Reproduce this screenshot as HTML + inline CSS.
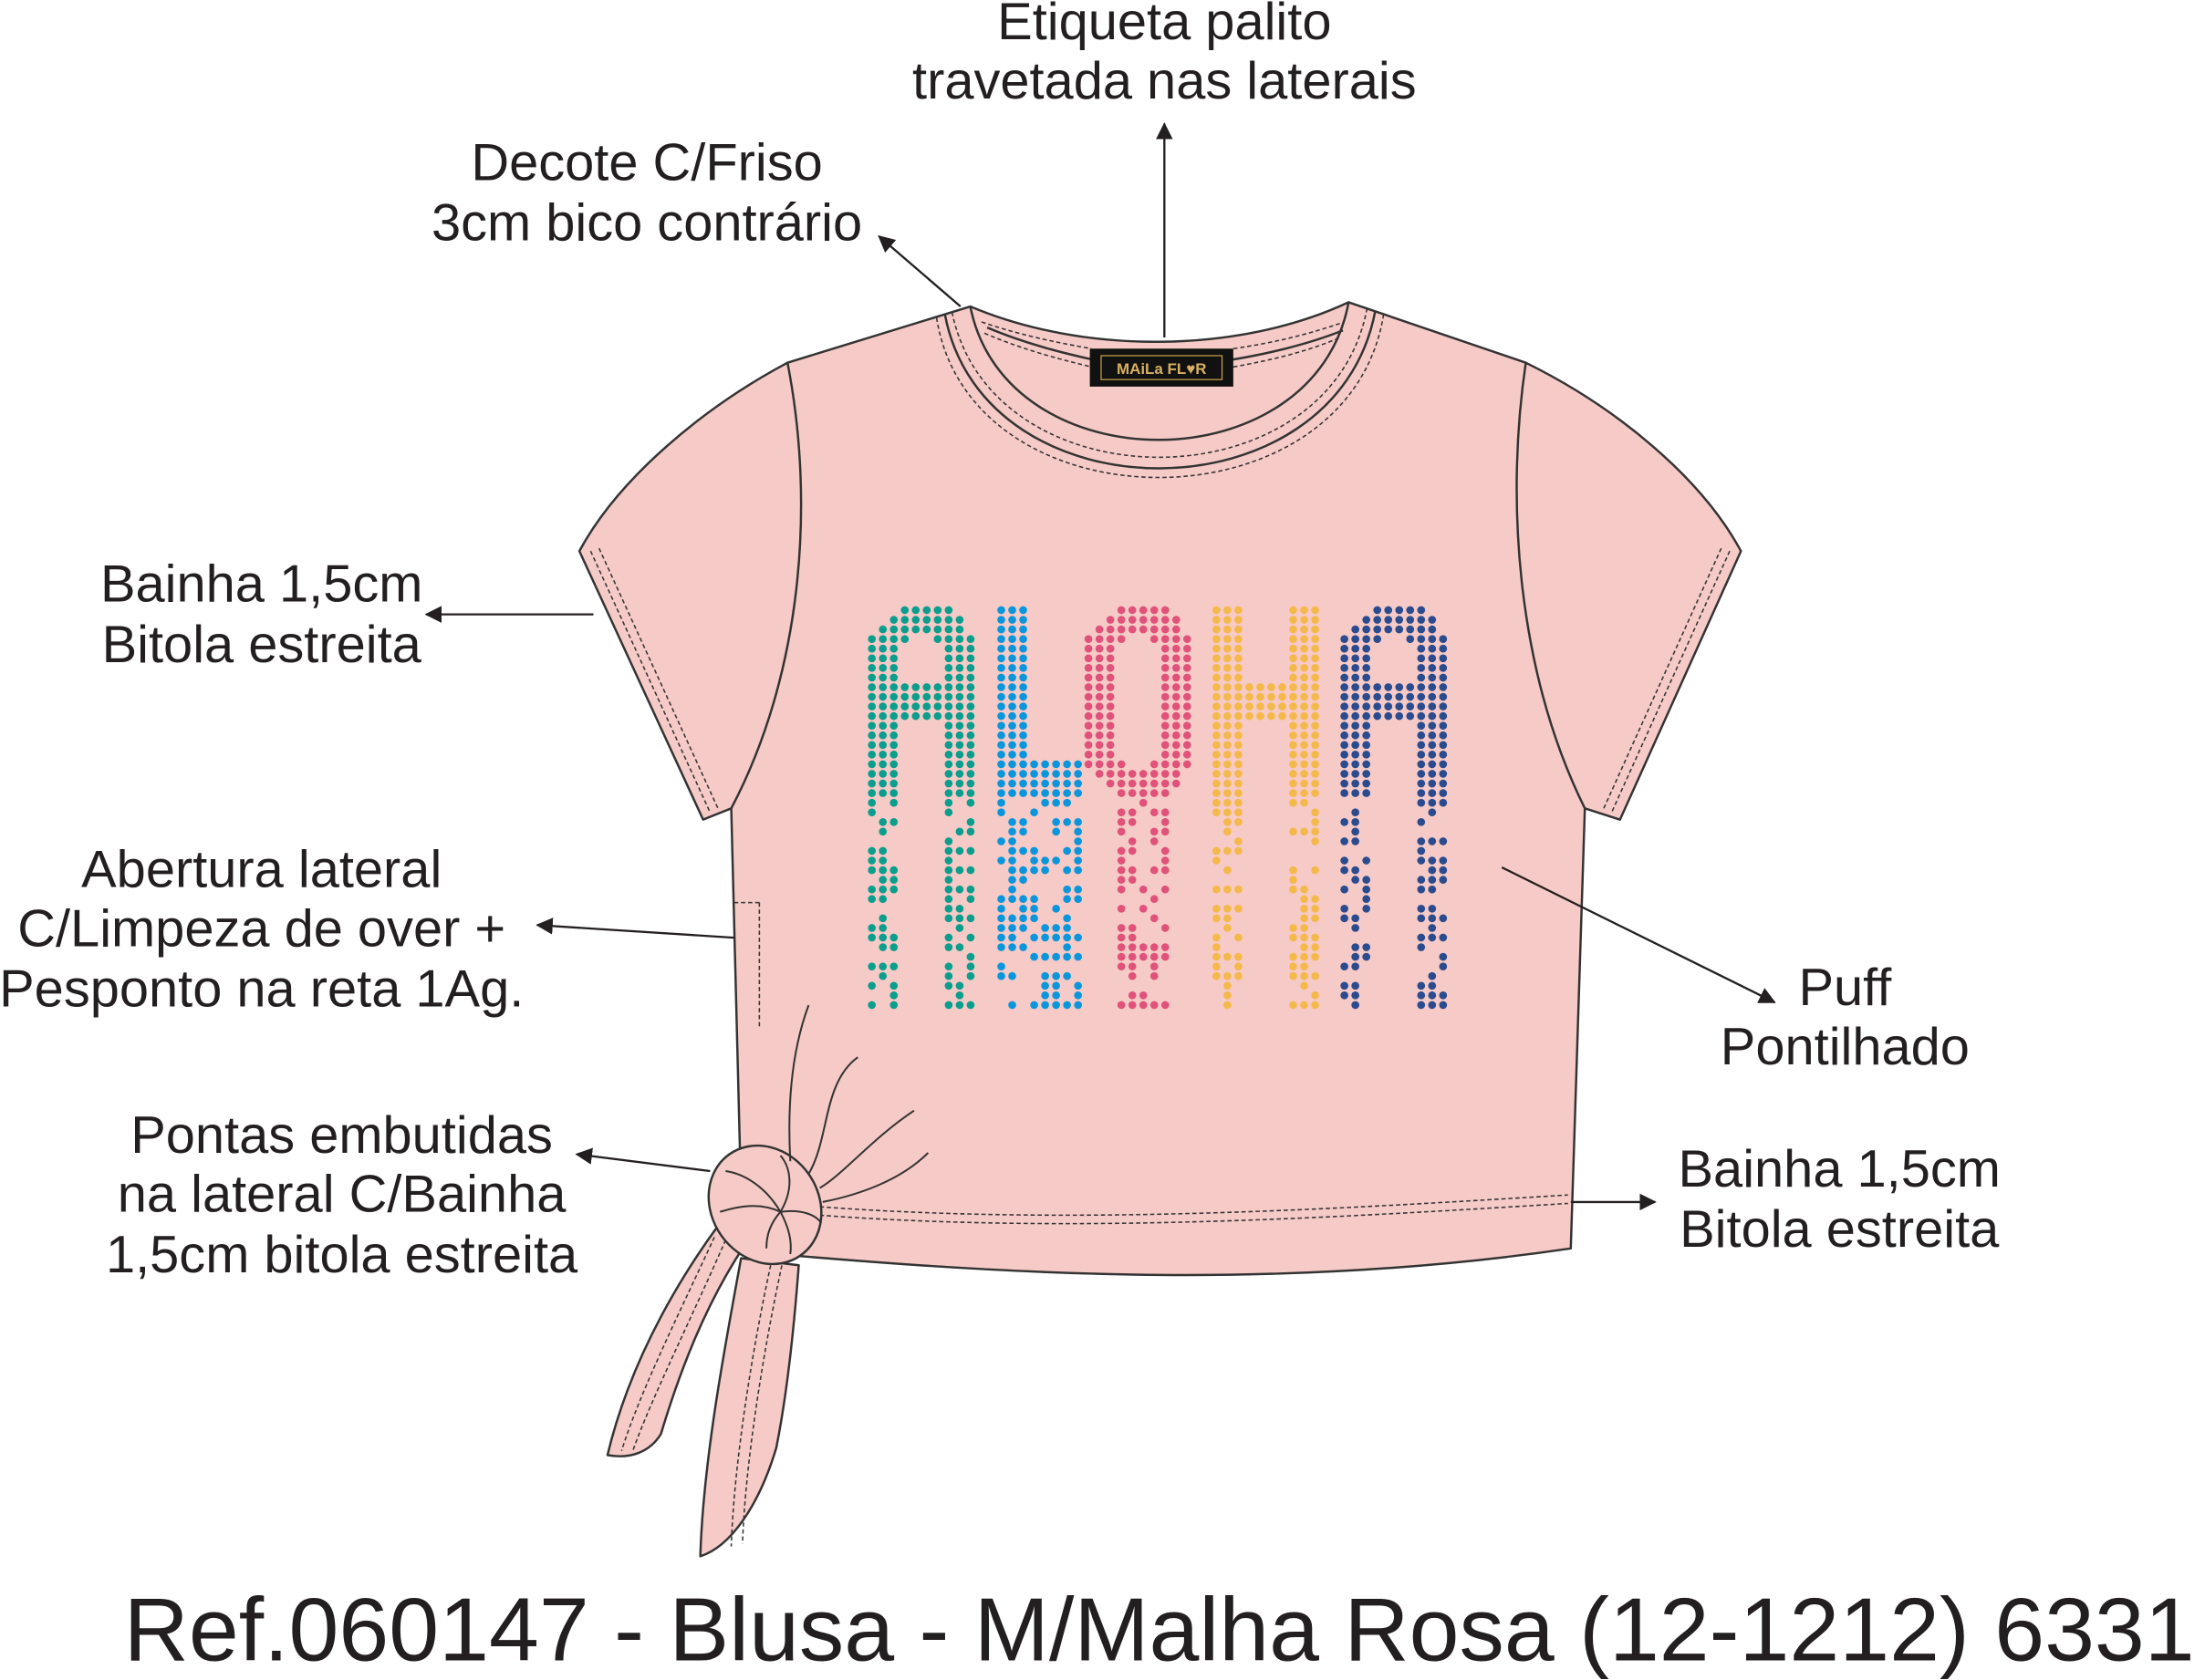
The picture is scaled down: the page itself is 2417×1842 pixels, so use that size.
<!DOCTYPE html>
<html><head><meta charset="utf-8"><style>
html,body{margin:0;padding:0;background:#fff;width:2417px;height:1842px;overflow:hidden}
svg{display:block}
text{font-family:"Liberation Sans",Arial,sans-serif;fill:#231f20}
</style></head><body>
<svg id="s" width="2417" height="1842" viewBox="0 0 1568 1195" preserveAspectRatio="none" xmlns="http://www.w3.org/2000/svg">
<defs>
<marker id="ar" markerWidth="12" markerHeight="12" refX="11" refY="6" orient="auto" markerUnits="userSpaceOnUse" viewBox="0 0 12 12">
<path d="M0,0 L12,6 L0,12 z" fill="#231f20"/></marker>
</defs>
<g stroke="#333" stroke-width="1.6" fill="#f6cac6" stroke-linejoin="round">
<path d="M512,870 C490,900 450,960 432,1035 C448,1038 462,1033 470,1020 C482,980 500,930 530,885 Z"/>
<path d="M527,895 C515,960 500,1040 498,1107 C520,1100 540,1070 552,1030 C560,990 565,940 568,900 Z"/>
<path d="M690,218 C770,252 880,252 959,215 L1085,258 C1150,290 1210,340 1238,392 L1152,583 L1127,575 L1117,888 C900,920 700,905 528,890 L520,575 L500,583 L412,392 C440,340 500,290 560,258 Z"/>
</g>
<g fill="none" stroke="#333" stroke-width="1.6">
<path d="M560,258 C580,360 570,480 520,575"/>
<path d="M1085,258 C1070,360 1080,480 1127,575"/>
<path d="M690,218 C715,345 935,345 959,215"/>
<path d="M672,224 C700,370 950,370 978,221"/>
<path d="M702,233 C730,245 760,252 778,256"/>
<path d="M875,256 C900,252 930,245 955,235"/>
</g>
<g fill="none" stroke="#333" stroke-width="1" stroke-dasharray="3,2">
<path d="M666,226 C690,378 960,378 984,223"/>
<path d="M677,222 C705,360 945,360 972,220"/>
<path d="M698,229 C730,240 760,245 776,248"/>
<path d="M700,237 C730,250 760,257 776,261"/>
<path d="M877,248 C905,244 930,238 956,229"/>
<path d="M877,261 C905,256 930,250 953,240"/>
<path d="M420,392 L505,578"/><path d="M426,390 L511,576"/>
<path d="M1230,392 L1146,578"/><path d="M1224,390 L1140,576"/>
<path d="M578,858 C760,872 950,860 1115,850"/><path d="M578,864 C760,878 950,866 1115,856"/>
<path d="M540,642 L540,730"/><path d="M522,642 L540,642"/>
<path d="M508,880 C485,930 455,990 442,1032"/><path d="M516,882 C493,935 463,995 450,1032"/>
<path d="M548,900 C535,960 522,1040 520,1100"/><path d="M556,900 C543,960 530,1040 528,1098"/>
</g>
<g stroke="#333" stroke-width="1.6" fill="#f6cac6">
<ellipse cx="544" cy="857" rx="38" ry="44" transform="rotate(-35 544 857)"/>
</g>
<g fill="none" stroke="#333" stroke-width="1.3">
<path d="M562,826 C560,790 562,750 575,715"/>
<path d="M575,835 C590,810 585,770 610,752"/>
<path d="M583,845 C600,835 620,810 650,790"/>
<path d="M585,855 C610,850 640,840 660,820"/>
<path d="M555,862 C545,845 530,835 516,833"/>
<path d="M555,862 C565,845 562,830 555,822"/>
<path d="M555,862 C540,855 525,858 512,862"/>
<path d="M555,862 C548,870 545,878 545,888"/>
<path d="M555,862 C562,875 563,885 562,892"/>
<path d="M555,862 C570,860 580,864 584,870"/>
</g>
<rect x="775" y="248" width="102" height="27" fill="#111"/>
<rect x="783" y="253" width="86" height="17" fill="none" stroke="#c9a24a" stroke-width="0.8"/>
<text x="826" y="266" font-size="11" text-anchor="middle" style="fill:#d8b060;font-weight:bold">MAiLa FL♥R</text>
<g id="dots"></g>
<g stroke="#231f20" stroke-width="1.5" fill="none" marker-end="url(#ar)">
<line x1="828" y1="240" x2="828" y2="88"/>
<line x1="683" y1="218" x2="625" y2="168"/>
<line x1="422" y1="437" x2="303" y2="437"/>
<line x1="522" y1="667" x2="382" y2="658"/>
<line x1="505" y1="833" x2="410" y2="821"/>
<line x1="1068" y1="617" x2="1262" y2="713"/>
<line x1="1117" y1="855" x2="1177" y2="855"/>
</g>
<g font-size="37.5" text-anchor="middle">
<text x="828" y="28">Etiqueta palito</text>
<text x="828" y="70">travetada nas laterais</text>
<text x="460" y="128">Decote C/Friso</text>
<text x="460" y="171">3cm bico contrário</text>
<text x="186" y="428">Bainha 1,5cm</text>
<text x="186" y="471">Bitola estreita</text>
<text x="186" y="631">Abertura lateral</text>
<text x="186" y="673">C/Limpeza de over +</text>
<text x="186" y="716">Pesponto na reta 1Ag.</text>
<text x="243" y="820">Pontas embutidas</text>
<text x="243" y="862">na lateral C/Bainha</text>
<text x="243" y="905">1,5cm bitola estreita</text>
<text x="1312" y="715">Puff</text>
<text x="1312" y="757">Pontilhado</text>
<text x="1308" y="844">Bainha 1,5cm</text>
<text x="1308" y="887">Bitola estreita</text>
</g>
<text x="88" y="1181" font-size="64">Ref.060147 - Blusa - M/Malha Rosa (12-1212) 6331</text>
</svg>
<script>
(function(){
var g=document.getElementById('dots'),ns='http://www.w3.org/2000/svg';
var seed=7;function rnd(){seed=(seed*16807)%2147483647;return seed/2147483647;}
var dx=7.8,dy=6.85,y0=434,rows=42,solid=20;
function dot(x,y,c){var e=document.createElementNS(ns,'circle');e.setAttribute('cx',x);e.setAttribute('cy',y);e.setAttribute('r',2.8);e.setAttribute('fill',c);g.appendChild(e);}
function range(a,b){var r=[];for(var i=a;i<=b;i++)r.push(i);return r;}
function A(r){if(r==0)return range(3,7);if(r==1)return range(2,8);if(r==2)return range(1,8);if(r==3)return [0,1,2,3,6,7,8,9];if(r>=8&&r<=11)return range(0,9);return [0,1,2,7,8,9];}
function L(r){if(r<16)return [0,1,2];return range(0,7);}
function O(r){if(r==0||r==19)return range(3,7);if(r==1||r==18)return range(2,8);if(r==2||r==17)return range(1,8);if(r==3||r==16)return [0,1,2,3,6,7,8,9];return [0,1,2,7,8,9];}
function H(r){if(r>=8&&r<=11)return range(0,9);return [0,1,2,7,8,9];}
var letters=[[620,'#0a9e8e',A,[0,1,2,7,8,9]],[712,'#0a96dc',L,range(0,7)],[774,'#e0527a',O,range(3,7)],[865,'#f5b84a',H,[0,1,2,7,8,9]],[956,'#2a4b8e',A,[0,1,2,7,8,9]]];
letters.forEach(function(l){
 for(var r=0;r<rows;r++){
  var y=y0+r*dy;
  if(r<solid){l[2](r).forEach(function(c){dot(l[0]+c*dx,y,l[1]);});}
  else{l[3].forEach(function(c){if(rnd()<0.6)dot(l[0]+c*dx,y,l[1]);});}
 }
});
})();
</script>
</body></html>
